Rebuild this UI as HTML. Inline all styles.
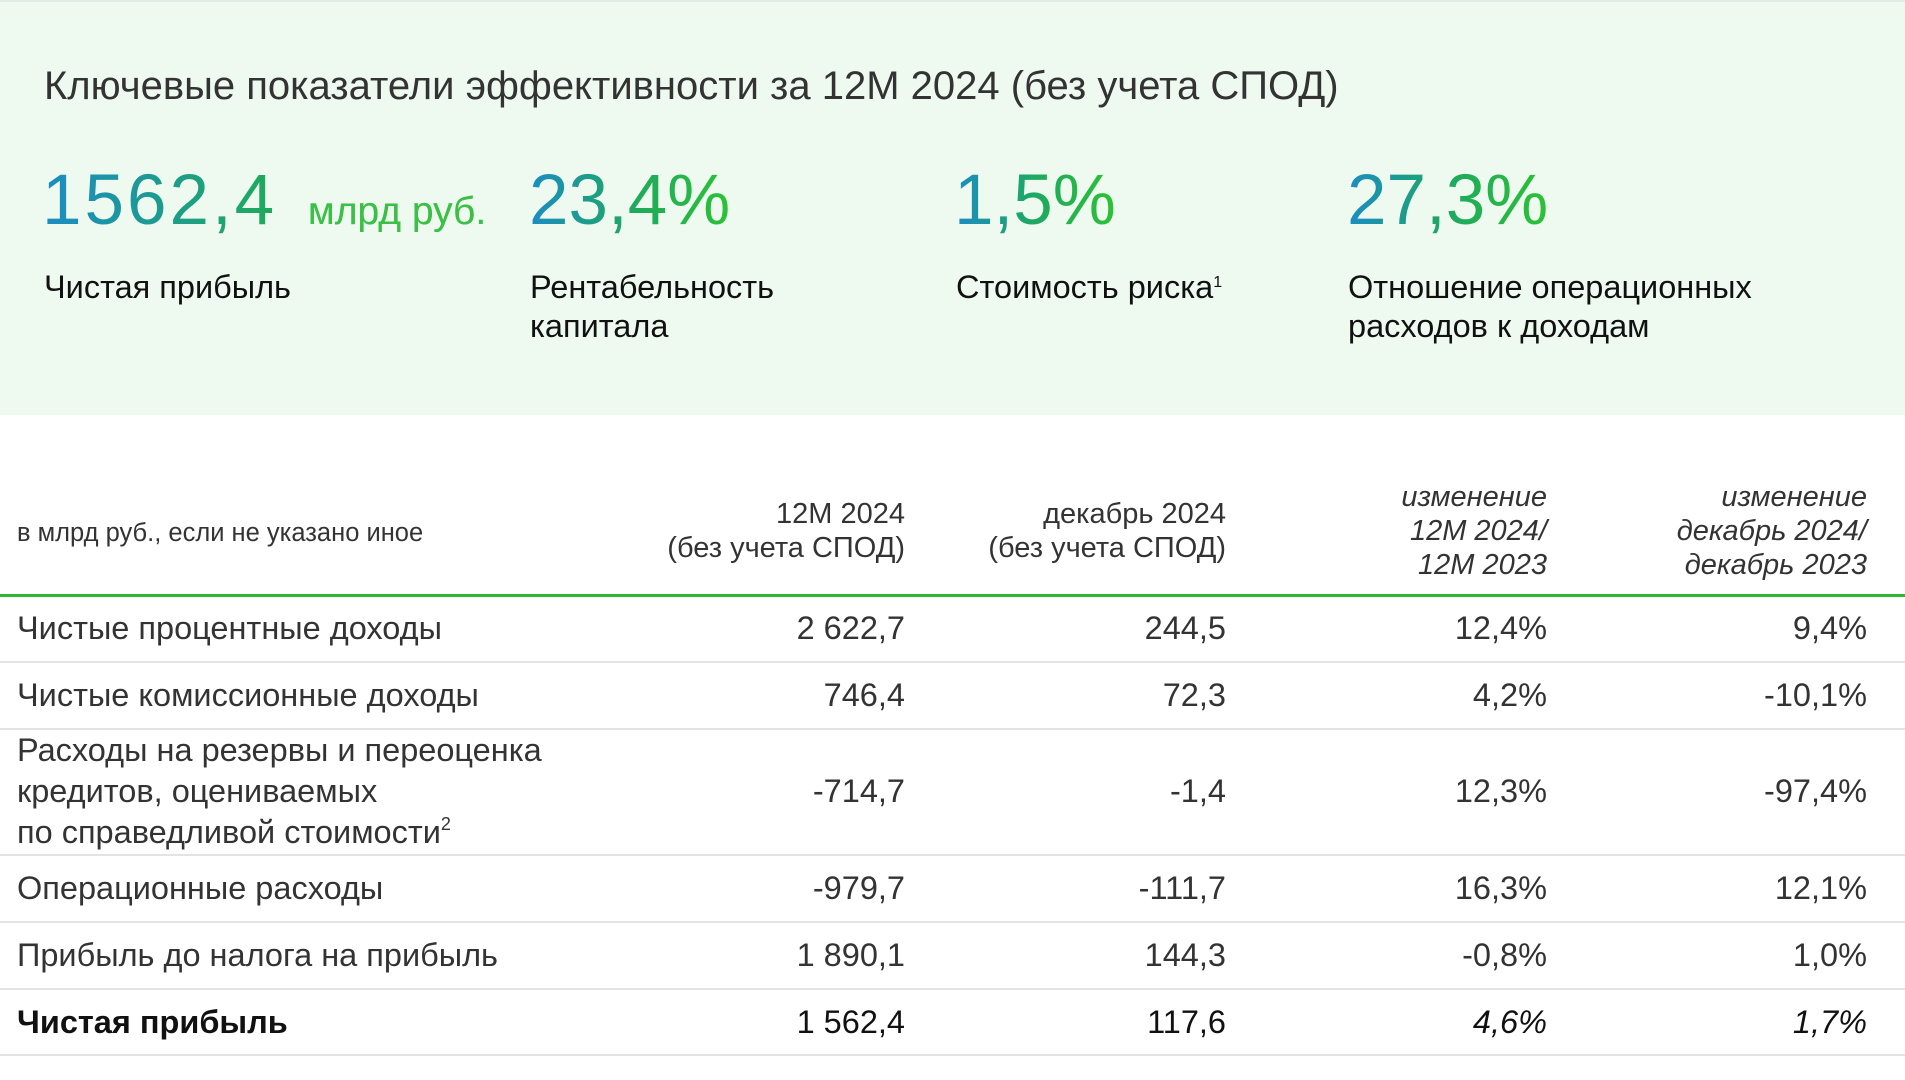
<!DOCTYPE html>
<html><head><meta charset="utf-8"><style>
*{margin:0;padding:0;box-sizing:border-box}
body{width:1905px;height:1080px;background:#fff;font-family:"Liberation Sans","DejaVu Sans",sans-serif;position:relative;overflow:hidden;color:#222}
sup{line-height:0;vertical-align:0;position:relative;top:-0.7em}
.panel{position:absolute;left:0;top:0;width:1905px;height:415px;background:#eefaf0;border-top:2px solid #e4e8e6}
.a{position:absolute;white-space:nowrap}
.title{left:44px;top:64px;font-size:40px;color:#333}
.big{top:160px;font-size:71px;background:linear-gradient(90deg,#1b8cc4,#1fa860 50%,#2bc235);-webkit-background-clip:text;background-clip:text;color:transparent;letter-spacing:0px}
.unit{font-size:39px;color:#3cbf45;margin-left:8px;letter-spacing:0}
.lab{top:268px;font-size:32.5px;line-height:39px;color:#111}
.lab sup{font-size:16px}
.hd{font-size:29px;line-height:34px;color:#333;text-align:right}
.hd i{font-style:italic}
.row{position:absolute;left:0;width:1905px;font-size:32.5px;color:#333}
.c{position:absolute;text-align:right;white-space:nowrap}
.line{position:absolute;left:0;width:1905px;height:2px;background:#e3e3e3}
</style></head><body>
<div class="panel"></div>
<div class="a title">Ключевые показатели эффективности за 12М 2024 (без учета СПОД)</div>
<div class="a big" style="left:42px;letter-spacing:3px">1562,4 <span class="unit" style="-webkit-text-fill-color:#3cbf45">млрд руб.</span></div>
<div class="a big" style="left:529px">23,4%</div>
<div class="a big" style="left:954px">1,5%</div>
<div class="a big" style="left:1347px">27,3%</div>
<div class="a lab" style="left:44px">Чистая прибыль</div>
<div class="a lab" style="left:530px">Рентабельность<br>капитала</div>
<div class="a lab" style="left:956px">Стоимость риска<sup>1</sup></div>
<div class="a lab" style="left:1348px">Отношение операционных<br>расходов к доходам</div>

<div class="a" style="left:17px;top:519px;font-size:25.5px;color:#333">в млрд руб., если не указано иное</div>
<div class="a hd" style="right:1000px;top:497px">12М 2024<br>(без учета СПОД)</div>
<div class="a hd" style="right:679px;top:497px">декабрь 2024<br>(без учета СПОД)</div>
<div class="a hd" style="right:358px;top:480px"><i>изменение<br>12М 2024/<br>12М 2023</i></div>
<div class="a hd" style="right:38px;top:480px"><i>изменение<br>декабрь 2024/<br>декабрь 2023</i></div>
<div class="line" style="top:594px;height:3px;background:#2db82f"></div>

<div class="row" style="top:610px"><span class="c" style="left:17px">Чистые процентные доходы</span><span class="c" style="right:1000px">2 622,7</span><span class="c" style="right:679px">244,5</span><span class="c" style="right:358px">12,4%</span><span class="c" style="right:38px">9,4%</span></div>
<div class="line" style="top:661px"></div>
<div class="row" style="top:677px"><span class="c" style="left:17px">Чистые комиссионные доходы</span><span class="c" style="right:1000px">746,4</span><span class="c" style="right:679px">72,3</span><span class="c" style="right:358px">4,2%</span><span class="c" style="right:38px">-10,1%</span></div>
<div class="line" style="top:728px"></div>
<div class="row" style="top:730px;line-height:41px"><span class="c" style="left:17px;text-align:left">Расходы на резервы и переоценка<br>кредитов, оцениваемых<br>по справедливой стоимости<sup style="font-size:18px">2</sup></span></div>
<div class="row" style="top:773px"><span class="c" style="right:1000px">-714,7</span><span class="c" style="right:679px">-1,4</span><span class="c" style="right:358px">12,3%</span><span class="c" style="right:38px">-97,4%</span></div>
<div class="line" style="top:854px"></div>
<div class="row" style="top:870px"><span class="c" style="left:17px">Операционные расходы</span><span class="c" style="right:1000px">-979,7</span><span class="c" style="right:679px">-111,7</span><span class="c" style="right:358px">16,3%</span><span class="c" style="right:38px">12,1%</span></div>
<div class="line" style="top:921px"></div>
<div class="row" style="top:937px"><span class="c" style="left:17px">Прибыль до налога на прибыль</span><span class="c" style="right:1000px">1 890,1</span><span class="c" style="right:679px">144,3</span><span class="c" style="right:358px">-0,8%</span><span class="c" style="right:38px">1,0%</span></div>
<div class="line" style="top:988px"></div>
<div class="row" style="top:1004px;color:#111"><span class="c" style="left:17px;font-weight:bold">Чистая прибыль</span><span class="c" style="right:1000px">1 562,4</span><span class="c" style="right:679px">117,6</span><span class="c" style="right:358px;font-style:italic">4,6%</span><span class="c" style="right:38px;font-style:italic">1,7%</span></div>
<div class="line" style="top:1054px"></div>
</body></html>
